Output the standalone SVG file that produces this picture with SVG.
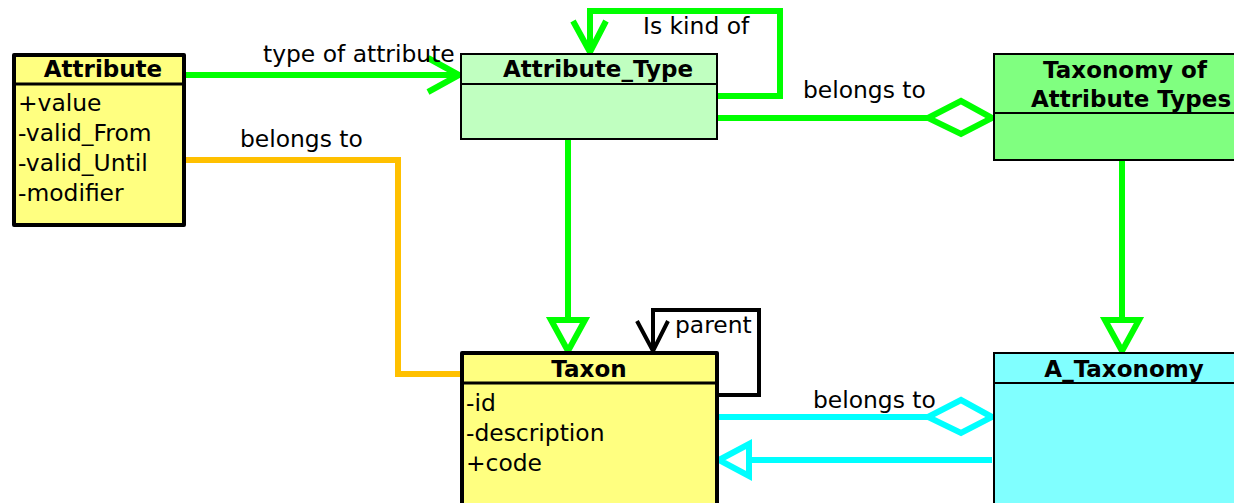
<svg xmlns="http://www.w3.org/2000/svg" width="1234" height="503" viewBox="0 0 1234 503">
  <style>
    text { font-family: "DejaVu Sans", "Liberation Sans", sans-serif; font-size: 23.4px; fill: #000; }
    .title { font-weight: bold; text-anchor: middle; font-size: 23px; }
    .box-thick { stroke: #000; stroke-width: 4; stroke-linejoin: round; }
    .box-thin { stroke: #000; stroke-width: 2; }
    .sep-thick { stroke: #000; stroke-width: 3; }
    .sep-thin { stroke: #000; stroke-width: 2; }
    .green { stroke: #00ff00; stroke-width: 6; fill: none; }
    .orange { stroke: #ffc000; stroke-width: 6; fill: none; }
    .cyan { stroke: #00ffff; stroke-width: 6; fill: none; }
    .black { stroke: #000; stroke-width: 4; fill: none; }
    .hollow { fill: #fff; }
  </style>
  <rect width="1234" height="503" fill="#fff"/>

  <!-- connectors -->
  <g id="connectors" stroke-linejoin="miter" stroke-linecap="butt">
    <!-- Attribute -> Attribute_Type : type of attribute -->
    <g id="type-of-attribute">
      <line class="green" x1="184" y1="75" x2="458" y2="75"/>
      <polyline class="green" points="428,58 459,75 428,92"/>
      <text x="263" y="62">type of attribute</text>
    </g>
    <!-- Attribute -> Taxon : belongs to -->
    <g id="attribute-belongs-to">
      <polyline class="orange" points="184,160 398,160 398,374 461,374"/>
      <text x="240" y="147">belongs to</text>
    </g>
    <!-- Attribute_Type self association : Is kind of -->
    <g id="is-kind-of">
      <polyline class="green" points="717,96 780,96 780,11 590,11 590,52"/>
      <polyline class="green" points="573,21 590,52 606,21"/>
      <text x="643" y="34">Is kind of</text>
    </g>
    <!-- Attribute_Type -> Taxonomy of Attribute Types : belongs to -->
    <g id="type-belongs-to">
      <line class="green" x1="717" y1="118" x2="928" y2="118"/>
      <polygon class="green hollow" points="928,118 961,101 992,118 961,134"/>
      <text x="803" y="98">belongs to</text>
    </g>
    <!-- Attribute_Type -> Taxon : generalization -->
    <g id="type-generalization">
      <line class="green" x1="568" y1="139" x2="568" y2="320"/>
      <polygon class="green hollow" points="551,320 585,320 568,351"/>
    </g>
    <!-- Taxonomy of Attribute Types -> A_Taxonomy : generalization -->
    <g id="taxonomy-generalization">
      <line class="green" x1="1122" y1="160" x2="1122" y2="320"/>
      <polygon class="green hollow" points="1105,320 1139,320 1122,351"/>
    </g>
    <!-- Taxon self association : parent -->
    <g id="parent">
      <polyline class="black" points="717,395 759,395 759,310 653,310 653,351"/>
      <polyline class="black" points="637,321 653,351 668,321"/>
      <text x="675" y="333">parent</text>
    </g>
    <!-- Taxon -> A_Taxonomy : belongs to -->
    <g id="taxon-belongs-to">
      <line class="cyan" x1="717" y1="417" x2="928" y2="417"/>
      <polygon class="cyan hollow" points="928,417 961,400 992,417 961,433"/>
      <text x="813" y="408">belongs to</text>
    </g>
    <!-- A_Taxonomy -> Taxon : generalization -->
    <g id="taxonomy-taxon-generalization">
      <line class="cyan" x1="992" y1="460" x2="749" y2="460"/>
      <polygon class="cyan hollow" points="719,460 749,444 749,476"/>
    </g>
  </g>

  <!-- Attribute -->
  <g id="Attribute">
    <rect class="box-thick" x="14" y="55" width="170" height="170" fill="#ffff80"/>
    <line class="sep-thick" x1="14" y1="84" x2="184" y2="84"/>
    <text class="title" x="103" y="77">Attribute</text>
    <text x="18" y="111">+value</text>
    <text x="18" y="141">-valid_From</text>
    <text x="18" y="171">-valid_Until</text>
    <text x="18" y="201">-modifier</text>
  </g>

  <!-- Attribute_Type -->
  <g id="Attribute_Type">
    <rect class="box-thin" x="461" y="54" width="256" height="85" fill="#c0ffc0"/>
    <line class="sep-thin" x1="461" y1="84" x2="717" y2="84"/>
    <text class="title" x="598" y="77">Attribute_Type</text>
  </g>

  <!-- Taxonomy of Attribute Types -->
  <g id="Taxonomy_of_Attribute_Types">
    <rect class="box-thin" x="994" y="54" width="260" height="106" fill="#80ff80"/>
    <line class="sep-thin" x1="994" y1="113" x2="1254" y2="113"/>
    <text class="title" x="1125" y="78">Taxonomy of</text>
    <text class="title" x="1131" y="107">Attribute Types</text>
  </g>

  <!-- Taxon -->
  <g id="Taxon">
    <rect class="box-thick" x="462" y="353" width="255" height="160" fill="#ffff80"/>
    <line class="sep-thick" x1="462" y1="383" x2="717" y2="383"/>
    <text class="title" x="589" y="377">Taxon</text>
    <text x="466" y="411">-id</text>
    <text x="466" y="441">-description</text>
    <text x="466" y="471">+code</text>
  </g>

  <!-- A_Taxonomy -->
  <g id="A_Taxonomy">
    <rect class="box-thin" x="994" y="353" width="260" height="160" fill="#80ffff"/>
    <line class="sep-thin" x1="994" y1="383" x2="1254" y2="383"/>
    <text class="title" x="1124" y="377">A_Taxonomy</text>
  </g>
</svg>
